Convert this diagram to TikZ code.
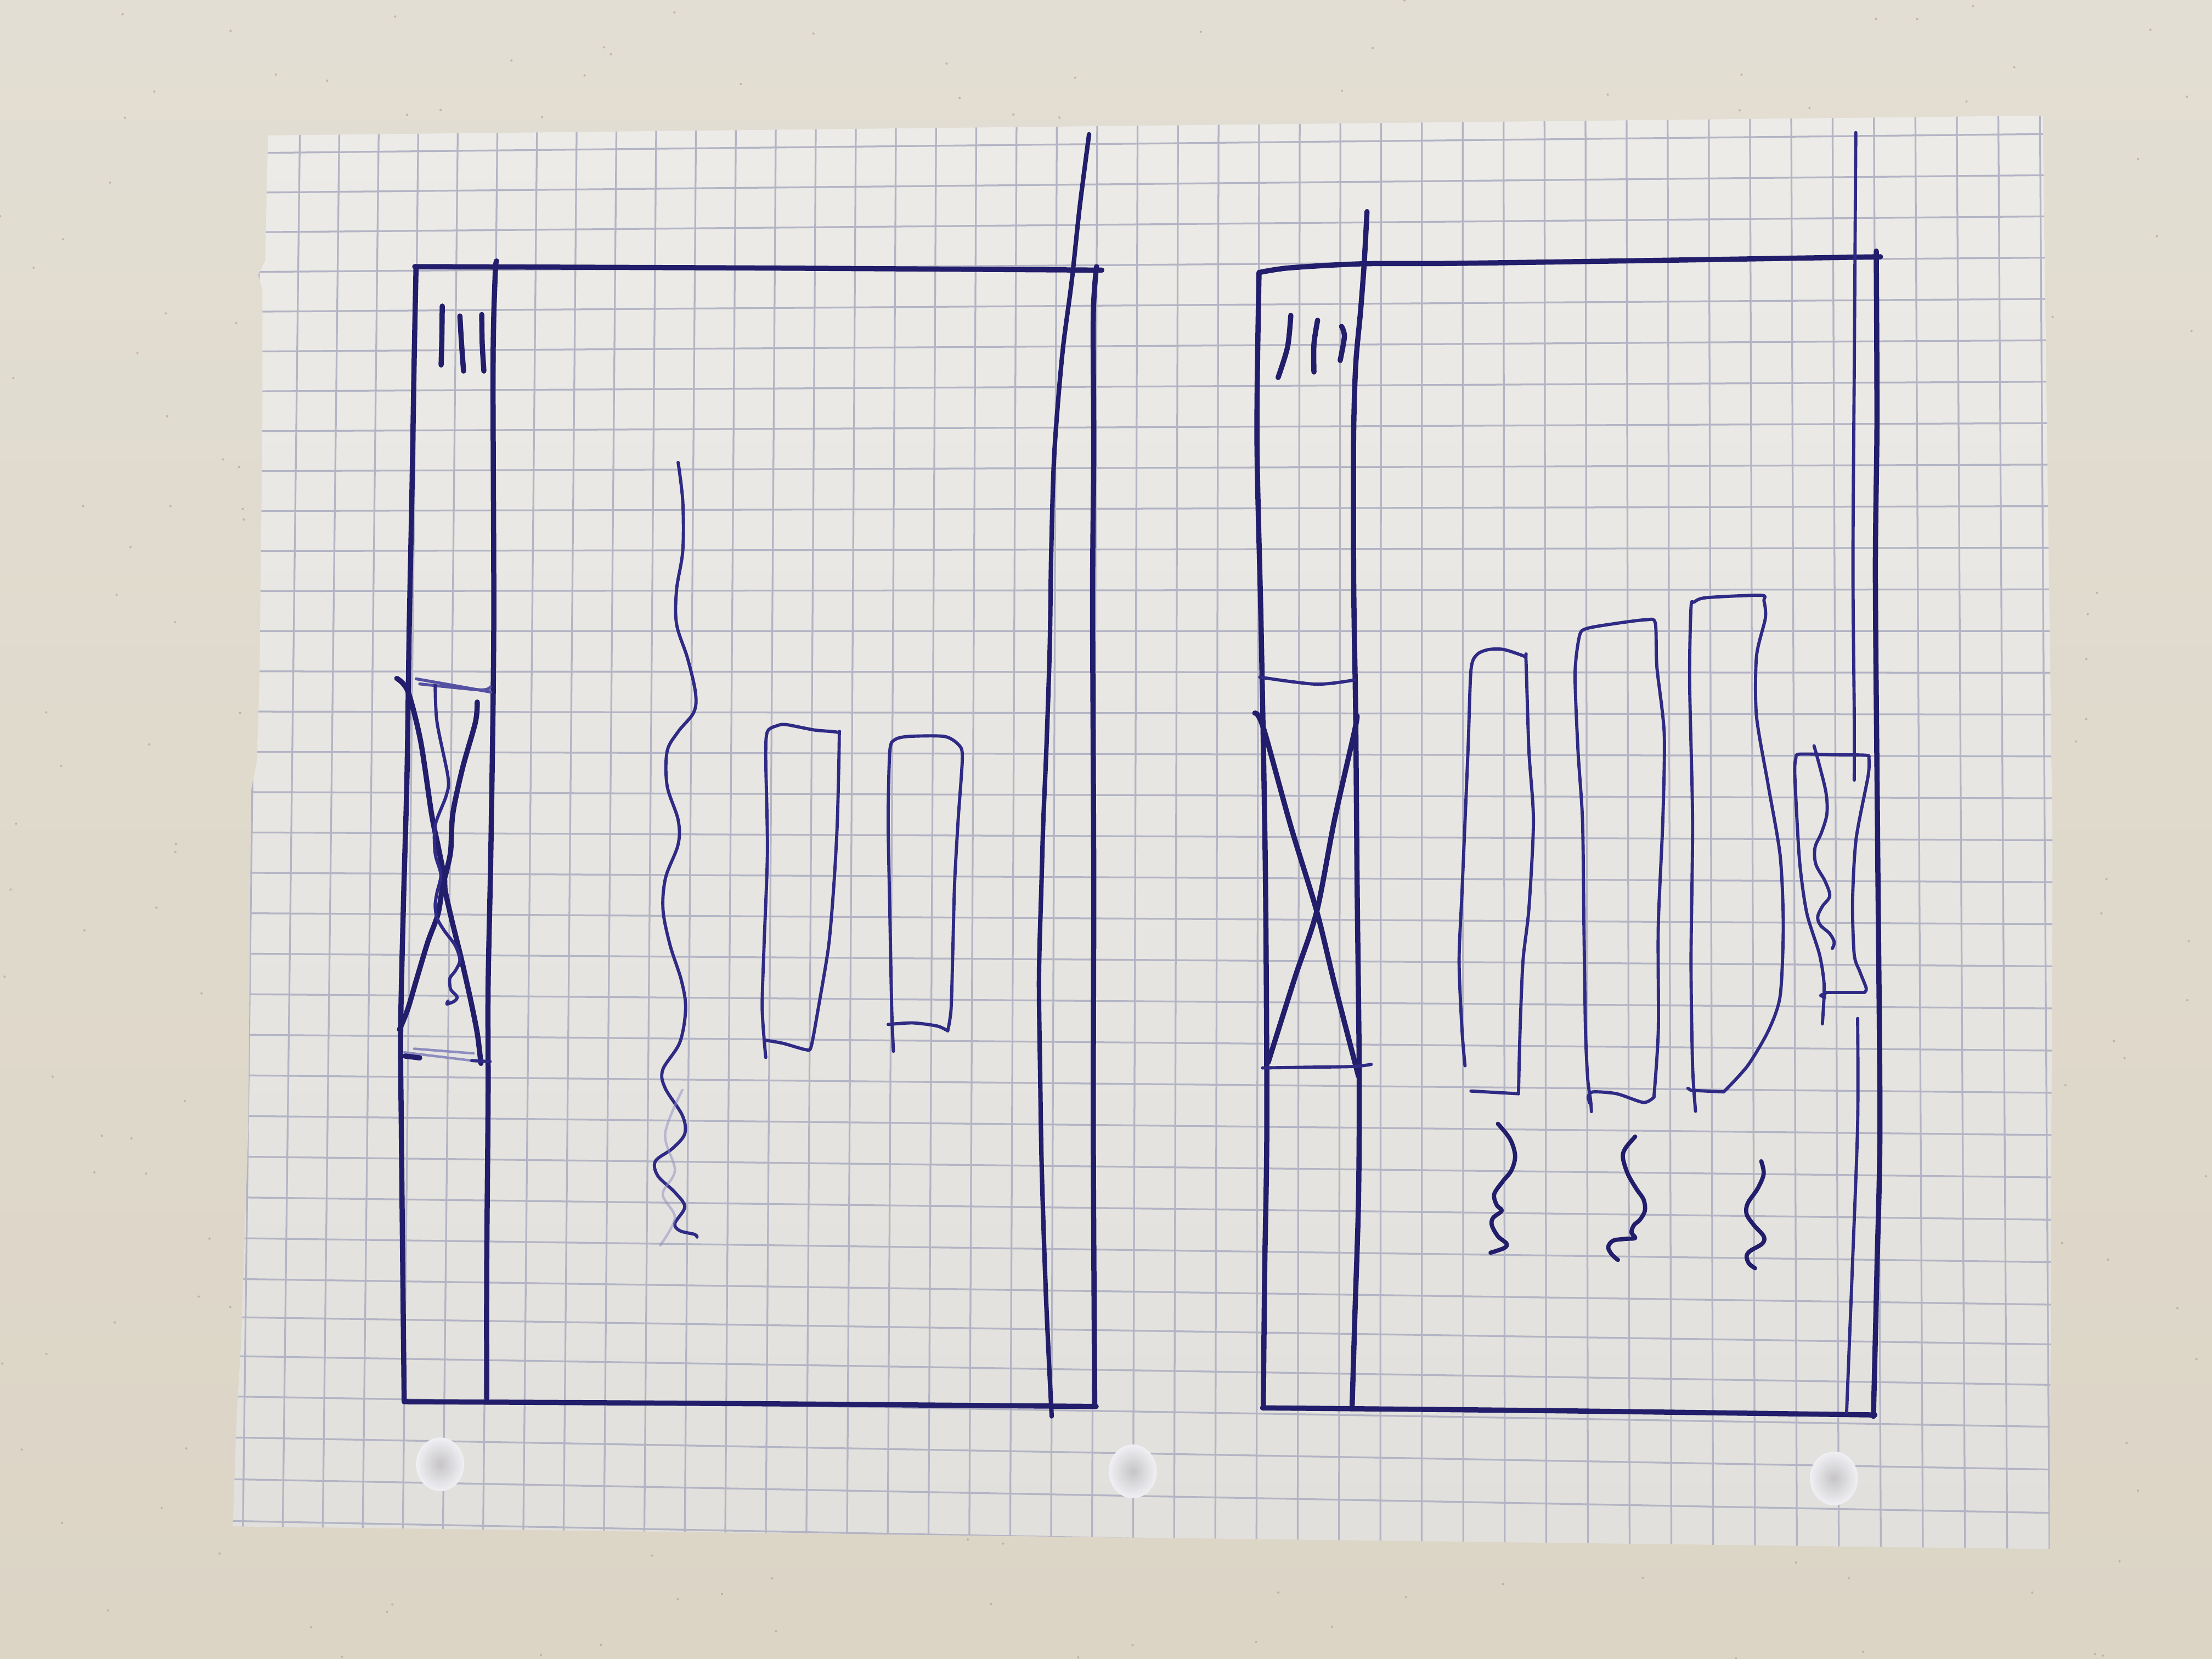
\documentclass[tikz,border=0pt]{standalone}
\definecolor{bgtop}{HTML}{E3DED3}
\definecolor{bgbot}{HTML}{DCD5C6}
\definecolor{speckc}{HTML}{A89D88}
\definecolor{papertop}{HTML}{EDEBE8}
\definecolor{paperbot}{HTML}{E2E0DC}
\definecolor{gridc}{HTML}{B3B4C4}
\definecolor{ink}{HTML}{221E6B}
\definecolor{inkl}{HTML}{2F2B85}
\definecolor{inkm}{HTML}{5451A3}
\definecolor{inkf}{HTML}{8E8DC0}
\definecolor{holein}{HTML}{C6C4C6}
\definecolor{holeout}{HTML}{F0F0F4}
\tikzset{
  gridline/.style={draw=gridc, line width=0.36pt},
  pen/.style={draw=ink, line width=1.05pt, line cap=round, line join=round},
  squig/.style={draw=ink, line width=0.85pt, line cap=round, line join=round},
  fine/.style={draw=inkl, line width=0.65pt, line cap=round, line join=round},
  medium/.style={draw=inkm, line width=0.6pt, line cap=round, line join=round},
  faint/.style={draw=inkf, line width=0.5pt, line cap=round, line join=round},
}
\def\paperpath{(190,96) -- (1448,82) -- (1455,600) -- (1453,1098) -- (165,1082) -- (168,1000) -- (171,950) -- (176,800) -- (178,560) -- (182,540) -- (184,480) -- (186,300) -- (186,205) -- (183,195) -- (188,185) -- cycle}
\begin{document}
\begin{tikzpicture}[x=0.01cm, y=-0.01cm]
\useasboundingbox (0,0) rectangle (1568,1176);
% countertop
\shade[top color=bgtop, bottom color=bgbot] (0,0) rectangle (1568,1176);
\pgfmathsetseed{7}
\foreach \i in {1,...,500}{
  \fill[speckc, opacity=0.6] ({rnd*1568},{rnd*1176}) circle[radius=0.008cm];
}
% paper
\shade[top color=papertop, bottom color=paperbot] \paperpath;
\begin{scope}
\clip \paperpath;
\foreach \X in {151.6,179.6,207.6,235.7,263.8,292,320.19,348.42,376.68,404.98,433.32,461.69,490.10,518.55,547.04,575.56,604.12,632.72,661.35,690.02,718.73,747.48,776.26,805.08,833.94,862.84,891.78,920.75,949.76,978.81,1007.90,1037.02,1066.18,1095.38,1124.62,1153.90,1183.22,1212.57,1241.96,1271.39,1300.86,1330.37,1359.92,1389.51,1419.14,1448.81,1478.5}{
  \pgfmathsetmacro{\mm}{-0.011+(\X-292)*0.000012953}
  \draw[gridline] ({\X-425*\mm},75) -- ({\X+605*\mm},1105);
}
\foreach \Y in {75.35,103.8,132.25,160.74,189.26,217.81,246.40,275.02,303.67,332.35,361.07,389.82,418.60,447.42,476.27,505.15,534.07,563.02,592.00,621.02,650.07,679.15,708.27,737.42,766.60,795.82,825.07,854.35,883.67,913.02,940.5,968.5,997.5,1027,1057,1087,1116}{
  \pgfmathsetmacro{\mm}{-0.011+0.000023*(\Y-90)}
  \draw[gridline] (150,{\Y-470*\mm}) -- (1470,{\Y+850*\mm});
}
\end{scope}
% punch holes
\foreach \hx/\hy in {312/1038, 803/1043, 1300/1048}{
  \shade[inner color=holein, outer color=holeout] (\hx,\hy) ellipse[x radius=0.17cm, y radius=0.19cm];
}

% ================= LEFT FRAME =================
\draw[pen] plot[smooth, tension=0.5] coordinates {(294,189) (540,190) (781,191.5)};
\draw[pen] plot[smooth, tension=0.5] coordinates {(294.9,189.9) (293.5,260) (292,350) (290,450) (288.5,550) (286,640) (284,730) (284.5,800) (285.5,900) (286.5,993)};
\draw[pen] plot[smooth, tension=0.5] coordinates {(352,185) (351,195) (349.5,260) (350,447) (348,600) (346,700) (346,778) (345,900) (345,991)};
\draw[pen] plot[smooth, tension=0.5] coordinates {(286.5,993.6) (530,995) (777,997)};
\draw[pen] plot[smooth, tension=0.5] coordinates {(777.3,189) (775,223.6) (775.3,320.8) (774.5,425) (775.3,622) (775,800) (776,997)};
\draw[pen, line width=0.9pt] plot[smooth, tension=0.5] coordinates {(772,95.2) (765.3,147.2) (759.7,199.3) (753,251.4) (747.4,320.8) (745.2,390.3) (744.1,459.7) (741.8,529.2) (739.6,581.2) (738.3,625) (736.5,692) (737.3,760) (738.5,830) (741.5,920) (745.5,1004)};
% hamburger
\draw[pen] plot[smooth] coordinates {(313.5,217) (313.2,240) (312.7,258.7)};
\draw[pen] plot[smooth] coordinates {(326,224) (327.2,244) (328.6,263)};
\draw[pen] plot[smooth] coordinates {(341.5,223) (341.8,243) (343,263)};
% X box
\draw[medium] (295,481.2) -- (348,490.6);
\draw[medium] plot[smooth] coordinates {(297.5,484.8) (340,489) (347.5,487)};
\draw[pen] plot[smooth, tension=0.5] coordinates {(281.3,480.9) (289.1,490) (298.1,525) (305.9,576.8) (310.6,600) (315,622.2) (315.6,631.3) (320.2,652) (326.6,678) (333.1,706.5) (338.3,732.4) (340.9,753.8)};
\draw[pen] plot[smooth, tension=0.5] coordinates {(338.3,497.7) (337,512) (327.9,544.4) (321,576.8) (319.5,602.8) (316.9,615.8) (313.7,628.7) (310.4,648.2) (303.3,667.6) (295.5,693.5) (289,715.5) (283.2,729.8)};
\draw[fine] plot[smooth, tension=0.5] coordinates {(308.5,486) (309.8,512) (317.6,551) (316.3,564) (308.5,585) (308.5,605) (312.5,620) (309.8,632.6) (308.5,641.7) (309.8,650.8) (315,659.8) (322.7,670.2) (326,680.6) (322.7,688.3) (318.9,693.5) (319.5,701.3) (324,706.5) (322.1,709.7) (316.9,711.7) (317.6,709.7)};
\draw[faint] (293.6,743.4) -- (335.7,746.7);
\draw[faint] (286.5,746) -- (334.4,751.8);
\draw[fine] (334.4,751.8) -- (347.4,752.5);
\draw[pen] (287.1,748.6) -- (297.5,749.9);
% wavy line
\draw[fine] plot[smooth, tension=0.55] coordinates {(480.7,327.8) (484,355.6) (484,390.3) (479.6,418) (479.6,442.4) (487.4,466.7) (493,491) (491.8,504.9) (480.7,518.7) (472.9,532.6) (472.9,557) (480.7,581.2) (480.7,598.6) (471.8,622.2) (470,645) (475,670) (483,695) (486,715) (481.9,738.9) (469.8,758.3) (471.5,771.3) (483.7,790.7) (485.4,803.7) (476.7,814.1) (464.6,823.1) (466.3,833.5) (478.4,845.2) (485.4,855.5) (478.4,867.2) (481.9,872.4) (492.3,875) (494.1,876.9)};
\draw[faint, draw opacity=0.5] plot[smooth, tension=0.55] coordinates {(483.7,772.6) (471.5,803.7) (478.4,829.6) (469.8,846.5) (478.4,863.3) (468,882.8)};
% rectangle A
\draw[fine] plot[smooth, tension=0.45] coordinates {(542.8,749.6) (540.3,715) (541.6,670.4) (544,603.4) (542.8,536.5) (544,518.6) (551.5,514.2) (557.7,513.7) (577.5,517.5) (593.6,519.1) (594.9,523.1) (593.6,581.1) (591.2,625.8) (587.4,670.4) (580,715) (575,741.8) (571.3,744.1) (555.2,739.6) (542.8,737.4)};
% rectangle B
\draw[fine] plot[smooth, tension=0.45] coordinates {(633.3,745.2) (632.1,715) (630.8,648.1) (629.6,581.1) (630.8,532) (634.6,524.2) (644.5,522) (669.3,522) (679.2,527.6) (682.2,536.5) (679.2,581.1) (676.7,625.8) (675.5,670.4) (674.2,715) (671.8,730.7)};
\draw[fine] plot[smooth, tension=0.45] coordinates {(671.8,730.7) (664.3,727.3) (647,725.1) (629.6,726.2)};

% ================= RIGHT FRAME =================
\draw[pen] plot[smooth, tension=0.5] coordinates {(892.5,193.2) (913.9,189.9) (965.7,187) (1030.5,186.7) (1180,184.5) (1333,182)};
\draw[pen] plot[smooth, tension=0.5] coordinates {(892.5,193.2) (891,311) (894,447) (897,620) (898,797) (896.5,900) (895.5,998)};
\draw[pen] plot[smooth, tension=0.5] coordinates {(969,150) (967,187) (964.5,220) (961,259) (959.5,311) (959.5,400) (960,447) (961,507) (962,626) (963.5,760) (963,850) (960.5,930) (958.5,996)};
\draw[pen] plot[smooth, tension=0.5] coordinates {(1330,178) (1330.5,300) (1329.4,408) (1331,600) (1332.6,797) (1330.5,900) (1328,1004)};
\draw[pen] plot[smooth, tension=0.5] coordinates {(895,998) (1100,1000) (1329,1003)};
\draw[fine] plot[smooth, tension=0.5] coordinates {(1315.5,94) (1314.5,250) (1313.5,400) (1314.4,505.6) (1314.4,553)};
\draw[fine] plot[smooth, tension=0.5] coordinates {(1316.8,722) (1316.8,797) (1313,900) (1309,1001)};
% hamburger
\draw[pen] plot[smooth] coordinates {(915,223.6) (912.7,246) (906,267.6)};
\draw[pen] plot[smooth] coordinates {(934,227) (931.4,244) (931.4,263.7)};
\draw[pen] plot[smooth] coordinates {(951,231.4) (953,238.5) (950,255.5)};
% X box
\draw[fine] plot[smooth] coordinates {(893,480) (933,485) (960,482)};
\draw[pen] plot[smooth, tension=0.5] coordinates {(889.5,505.5) (892,507.5) (897,520.7) (915,585.7) (933.4,646) (946,697.4) (963,763)};
\draw[pen] plot[smooth, tension=0.5] coordinates {(962,507.5) (960,519) (946,581) (933.4,646) (918,692.7) (899,753)};
\draw[fine] plot[smooth] coordinates {(895,757) (928,756.5) (959.4,756) (972,754.5)};
% bar 1
\draw[fine] plot[smooth, tension=0.45] coordinates {(1038.5,755.5) (1036.4,730.7) (1034.3,681.1) (1036.4,631.5) (1040.6,532.3) (1042.7,475.3) (1046.9,464.1) (1055,460.5) (1065.9,460.4) (1080.7,465.3) (1081.7,467.8) (1083.8,532.3) (1087,581.9) (1083.8,643.9) (1079.6,681.1) (1077.5,730.7) (1076.4,775.3)};
\draw[fine] (1076.4,775.3) -- (1042.7,773.4);
% bar 2
\draw[fine] plot[smooth, tension=0.45] coordinates {(1128.1,788) (1127.5,780) (1125.5,765) (1123.9,730.7) (1122.8,656.3) (1121.8,581.9) (1118.6,532.3) (1116.5,477.7) (1119.7,450.5) (1124.9,445.5) (1145,442) (1167.1,439.3) (1173.4,441.8) (1174.5,472.8) (1179.7,519.9) (1178.7,581.9) (1175.5,656.3) (1175.5,730.7) (1172.4,777.8)};
\draw[fine] plot[smooth, tension=0.45] coordinates {(1172.4,777.8) (1165,781.5) (1146,775.3) (1129.1,774) (1125.8,777.5) (1127,782)};
% bar 3
\draw[fine] plot[smooth, tension=0.45] coordinates {(1201.9,787.7) (1199.8,755.5) (1198.7,681.1) (1199.8,581.9) (1197.7,482.7) (1198.7,430.6) (1200.8,426.9) (1209.3,423.7) (1248.3,422) (1250.4,425.7) (1251.4,438.1) (1245.1,465.3) (1245.1,507.5) (1253.5,557.1) (1261.9,606.7) (1264.1,656.3) (1261.9,705.9) (1253.5,730.7) (1238.8,755.5) (1221.9,774)};
\draw[fine] (1221.9,774) -- (1198.7,772.9) -- (1196.5,771.5);
% small box
\draw[fine] plot[smooth, tension=0.45] coordinates {(1291.8,725.8) (1293.1,699) (1289.8,676.7) (1280.7,647) (1275.6,609.8) (1272.3,550.2) (1273,537.6) (1275.6,534.6) (1300,535) (1322.9,535.4) (1324.8,537.6) (1324.2,550.2) (1315.7,594.9) (1313.2,639.5) (1314.4,676.7) (1318.3,688.6) (1322.9,700.5) (1321.6,703.5)};
\draw[fine] (1321.6,703.5) -- (1295,703.5) -- (1290.5,705.7) -- (1293.5,707);
\draw[fine] plot[smooth, tension=0.55] coordinates {(1285.9,528.7) (1289.8,542.8) (1294.4,562.1) (1295,577) (1291.1,590.4) (1286.6,600.8) (1287.2,612.7) (1293.7,624.6) (1297,635.1) (1291.8,642.5) (1288.5,649.9) (1290.5,655.9) (1297,661.8) (1300.2,667.8) (1298.9,672.3)};
% three squiggles
\draw[squig] plot[smooth, tension=0.55] coordinates {(1061.8,796.6) (1070.5,807.6) (1074,819.3) (1071.4,829.6) (1065.3,837.4) (1059.2,846.5) (1061,854.3) (1064.5,858.2) (1058.4,863.3) (1057.5,868.5) (1061.8,876.3) (1067.9,881.5) (1066.2,884.7) (1056.6,888)};
\draw[squig] plot[smooth, tension=0.55] coordinates {(1159.1,805.7) (1152.1,814.1) (1150.4,820.6) (1153.9,832.2) (1159.9,842.6) (1165.1,850.4) (1166,858.2) (1162.5,864.6) (1158.2,868.5) (1156.5,873.7) (1159.1,877.6) (1152.1,878.2) (1143.4,879.5) (1140,884.1) (1142.6,889.3) (1146.9,893.1)};
\draw[squig] plot[smooth, tension=0.55] coordinates {(1248.5,823.2) (1250.2,832.2) (1245.9,842.6) (1238.9,853) (1238.1,860.7) (1243.3,868.5) (1250.2,876.3) (1249.3,881.5) (1240.7,886.7) (1238.1,890.5) (1239.8,895.7) (1244.1,899)};
\end{tikzpicture}
\end{document}
